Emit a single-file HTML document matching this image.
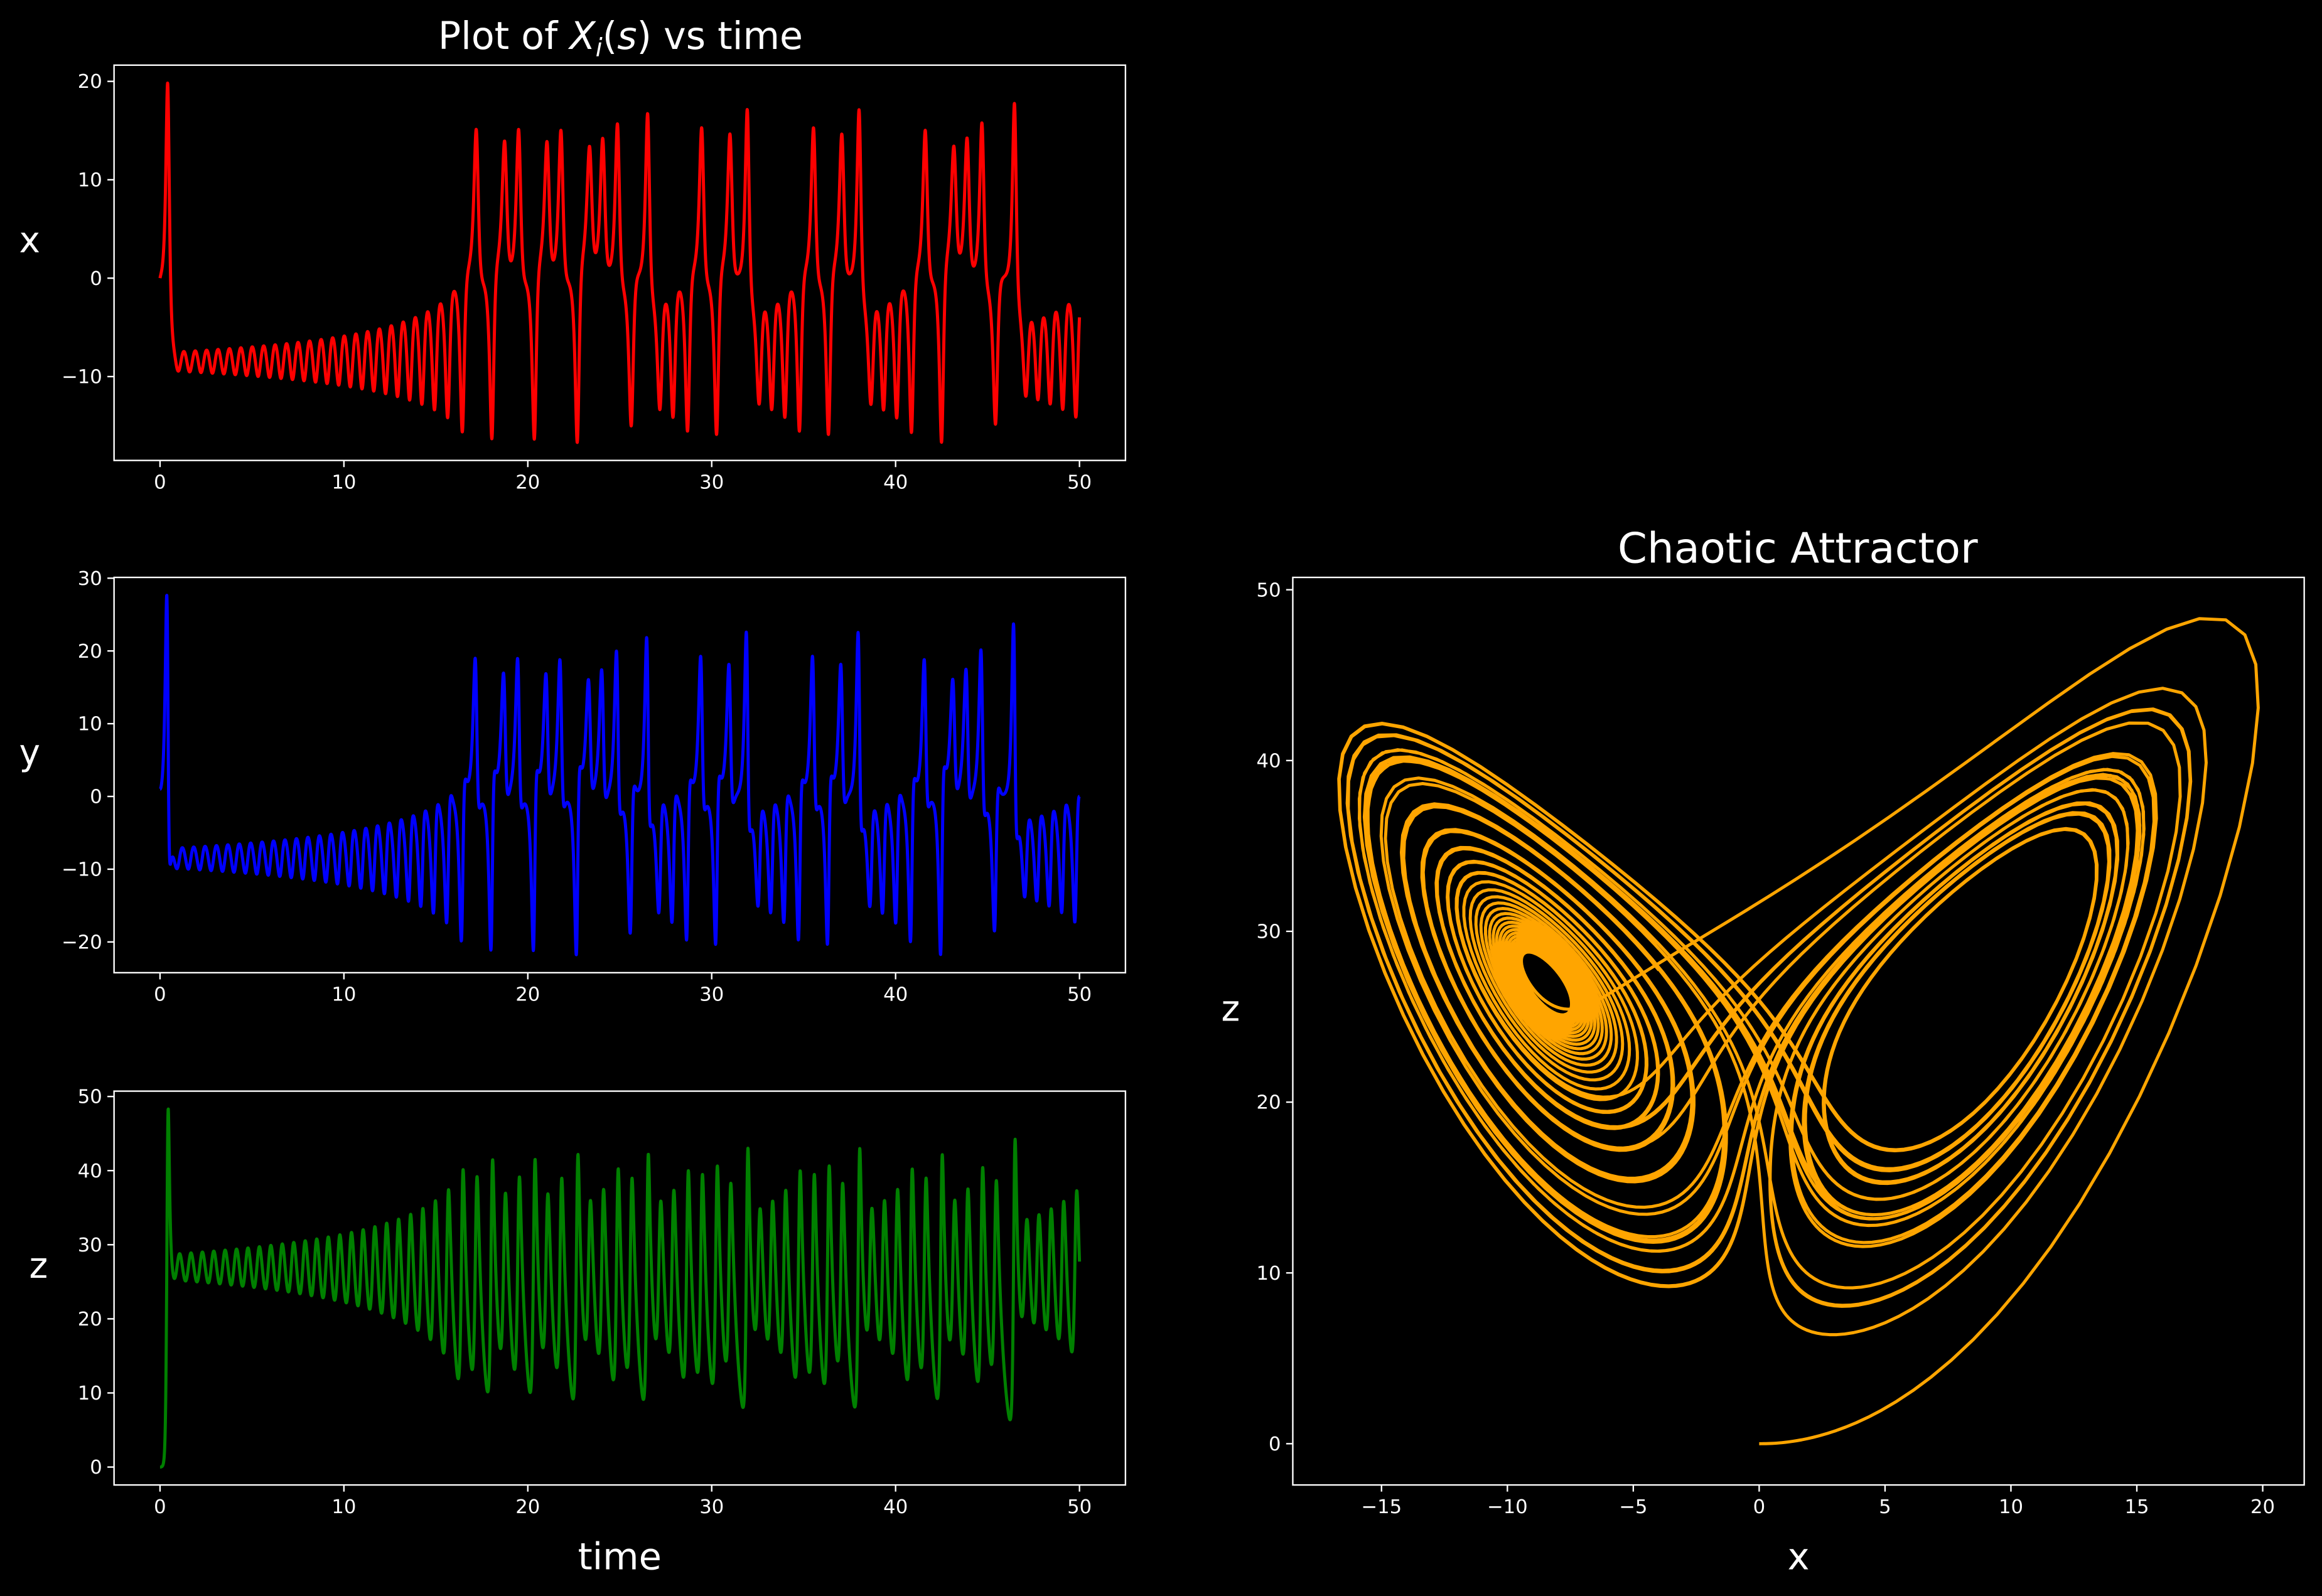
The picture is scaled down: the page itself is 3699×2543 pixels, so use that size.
<!DOCTYPE html>
<html><head><meta charset="utf-8"><style>
html,body{margin:0;padding:0;background:#000;}
svg{display:block;}
text{font-family:"DejaVu Sans","Liberation Sans",sans-serif;fill:#fff;}
</style></head><body>
<svg id="fig" xmlns="http://www.w3.org/2000/svg" width="3699" height="2543" viewBox="0 0 1568 1078">
<rect width="1568" height="1078" fill="#000"/>
<text x="419" y="33" font-size="25.5" text-anchor="middle">Plot of <tspan font-style="italic">X</tspan><tspan font-size="17" dy="5" font-style="italic">i</tspan><tspan dy="-5">(</tspan><tspan font-style="italic">s</tspan>) vs time</text>
<text x="1214" y="380" font-size="28.5" text-anchor="middle">Chaotic Attractor</text>
<g id="plots"></g>
</svg>
<script>
// Lorenz system parameters (data source)
const lorenzParams = [10, 28, 8/3];      // sigma, rho, beta
const initialState = [0, 1, 0];          // x0, y0, z0
const timeSpan = [0, 50];
const stepCount = [50000];
const xTicksTime = [0, 10, 20, 30, 40, 50];
const xSeriesTicks = [-10, 0, 10, 20];
const ySeriesTicks = [-20, -10, 0, 10, 20, 30];
const zSeriesTicks = [0, 10, 20, 30, 40, 50];
const attractorXTicks = [-15, -10, -5, 0, 5, 10, 15, 20];
const attractorZTicks = [0, 10, 20, 30, 40, 50];

// integrate
const T = [], X = [], Y = [], Z = [];
(function(){
  const [s, r, b] = lorenzParams;
  let [x, y, z] = initialState;
  const n = stepCount[0], dt = (timeSpan[1]-timeSpan[0])/n;
  const f = (x,y,z)=>[s*(y-x), x*(r-z)-y, x*y-b*z];
  for (let i=0;i<=n;i++){
    if (i%10===0){T.push(timeSpan[0]+i*dt);X.push(x);Y.push(y);Z.push(z);}
    const k1=f(x,y,z);
    const k2=f(x+dt/2*k1[0],y+dt/2*k1[1],z+dt/2*k1[2]);
    const k3=f(x+dt/2*k2[0],y+dt/2*k2[1],z+dt/2*k2[2]);
    const k4=f(x+dt*k3[0],y+dt*k3[1],z+dt*k3[2]);
    x+=dt/6*(k1[0]+2*k2[0]+2*k3[0]+k4[0]);
    y+=dt/6*(k1[1]+2*k2[1]+2*k3[1]+k4[1]);
    z+=dt/6*(k1[2]+2*k2[2]+2*k3[2]+k4[2]);
  }
})();

const NS="http://www.w3.org/2000/svg";
const root=document.getElementById('plots');
function mk(tag, attrs, parent){const e=document.createElementNS(NS,tag);for(const k in attrs)e.setAttribute(k,attrs[k]);(parent||root).appendChild(e);return e;}
function ext(a){let lo=Infinity,hi=-Infinity;for(const v of a){if(v<lo)lo=v;if(v>hi)hi=v;}const m=(hi-lo)*0.05;return [lo-m,hi+m];}

function panel(name, box, xs, ys, color, xt, yt, ylabel, xlabel, ylabelX){
  const [L,Tp,R,B]=box;
  const [x0,x1]=ext(xs),[y0,y1]=ext(ys);
  const sx=v=>L+(v-x0)/(x1-x0)*(R-L);
  const sy=v=>B-(v-y0)/(y1-y0)*(B-Tp);
  const g=mk('g',{});
  
  
  let d='';
  for(let i=0;i<xs.length;i++)d+=(i?'L':'M')+sx(xs[i]).toFixed(2)+' '+sy(ys[i]).toFixed(2);
  const p=mk('path',{d:d,fill:'none',stroke:color,'stroke-width':2.1,'stroke-linejoin':'round'},g);
  
  
  const fr=mk('rect',{x:L,y:Tp,width:R-L,height:B-Tp,fill:'none',stroke:'#fff','stroke-width':1},g);
  
  
  for(const t of xt){const X_=sx(t);
    mk('line',{x1:X_,x2:X_,y1:B,y2:B+4.5,stroke:'#fff','stroke-width':1},g);
    const tx=mk('text',{x:X_,y:B+19,'font-size':13,'text-anchor':'middle'},g);tx.textContent=String(t).replace('-','\u2212');
    
    }
  for(const t of yt){const Y_=sy(t);
    mk('line',{x1:L-4.5,x2:L,y1:Y_,y2:Y_,stroke:'#fff','stroke-width':1},g);
    const tx=mk('text',{x:L-8,y:Y_+4.5,'font-size':13,'text-anchor':'end'},g);tx.textContent=String(t).replace('-','\u2212');
    
    }
  const yl=mk('text',{x:ylabelX,y:(Tp+B)/2-7,'font-size':24,'text-anchor':'middle'},g);yl.textContent=ylabel;
  
  
  if(xlabel){const xl=mk('text',{x:(L+R)/2,y:B+57,'font-size':25,'text-anchor':'middle'},g);xl.textContent=xlabel;
    
    }
}
panel('x-series-panel',[77,44,760,311],T,X,'#ff0000',xTicksTime,xSeriesTicks,'x',null,20);
panel('y-series-panel',[77,390,760,657],T,Y,'#0000ff',xTicksTime,ySeriesTicks,'y',null,20);
panel('z-series-panel',[77,737,760,1003],T,Z,'#008000',xTicksTime,zSeriesTicks,'z','time',26);
panel('attractor-panel',[873,390,1556,1003],X,Z,'#ffa500',attractorXTicks,attractorZTicks,'z','x',831);
</script>
</body></html>
